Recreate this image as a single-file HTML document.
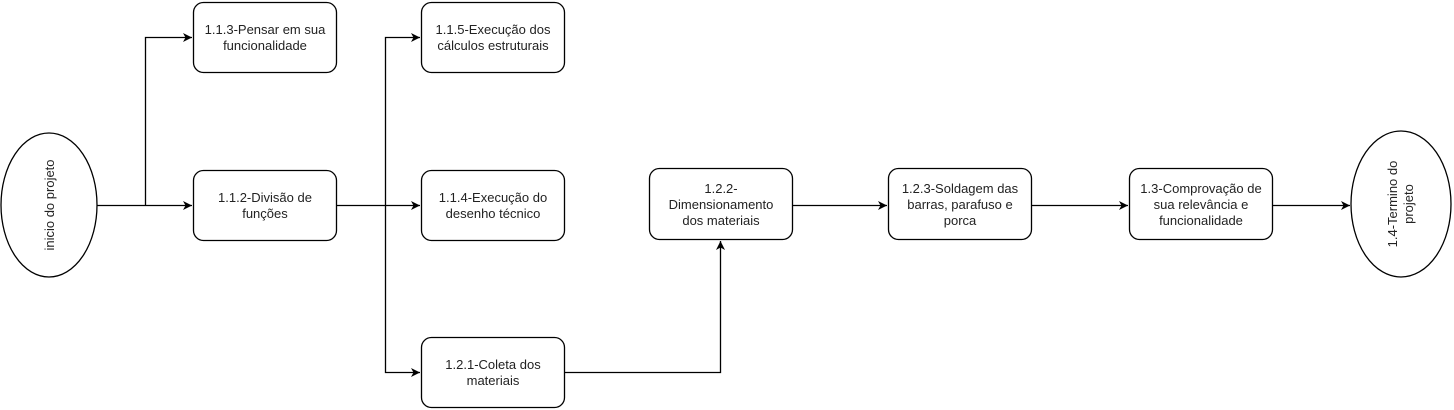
<!DOCTYPE html>
<html><head><meta charset="utf-8"><style>
body{margin:0;background:#fff;}
svg{display:block;}
text{font-family:"Liberation Sans",Arial,sans-serif;font-size:13px;fill:#222;text-anchor:middle;}
</style></head><body>
<svg width="1454" height="410" viewBox="0 0 1454 410">
<defs><marker id="a" markerWidth="12" markerHeight="12" refX="10" refY="6" orient="auto" markerUnits="userSpaceOnUse"><path d="M1,1.5 L10,6 L1,10.5 L3.5,6 Z" fill="#000"/></marker></defs>
<g fill="none" stroke="#000" stroke-width="1.3">
<ellipse cx="49" cy="205" rx="48" ry="72" fill="#fff"/>
<ellipse cx="1401" cy="204" rx="50" ry="73" fill="#fff"/>
<rect x="193.5" y="2.5" width="143" height="70" rx="10" fill="#fff"/>
<rect x="193.5" y="170.5" width="143" height="70" rx="10" fill="#fff"/>
<rect x="421.5" y="2.5" width="143" height="70" rx="10" fill="#fff"/>
<rect x="421.5" y="170.5" width="143" height="70" rx="10" fill="#fff"/>
<rect x="421.5" y="337.5" width="143" height="70" rx="10" fill="#fff"/>
<rect x="649.5" y="168.5" width="143" height="71" rx="10" fill="#fff"/>
<rect x="888.5" y="168.5" width="143" height="71" rx="10" fill="#fff"/>
<rect x="1129.5" y="168.5" width="143" height="71" rx="10" fill="#fff"/>
<path d="M97,205.5 H192" marker-end="url(#a)"/>
<path d="M145.5,205.5 V37.5 H192" marker-end="url(#a)"/>
<path d="M337,205.5 H420" marker-end="url(#a)"/>
<path d="M385.5,205.5 V37.5 H420" marker-end="url(#a)"/>
<path d="M385.5,205.5 V372.5 H420" marker-end="url(#a)"/>
<path d="M565,372.5 H720.5 V241" marker-end="url(#a)"/>
<path d="M793,205.5 H887" marker-end="url(#a)"/>
<path d="M1032,205.5 H1128" marker-end="url(#a)"/>
<path d="M1273,205.5 H1350" marker-end="url(#a)"/>
</g>
<text x="265" y="34">1.1.3-Pensar em sua</text><text x="265" y="50">funcionalidade</text>
<text x="265" y="202">1.1.2-Divisão de</text><text x="265" y="218">funções</text>
<text x="493" y="34">1.1.5-Execução dos</text><text x="493" y="50">cálculos estruturais</text>
<text x="493" y="202">1.1.4-Execução do</text><text x="493" y="218">desenho técnico</text>
<text x="493" y="369">1.2.1-Coleta dos</text><text x="493" y="385">materiais</text>
<text x="721" y="193">1.2.2-</text><text x="721" y="209">Dimensionamento</text><text x="721" y="225">dos materiais</text>
<text x="960" y="193">1.2.3-Soldagem das</text><text x="960" y="209">barras, parafuso e</text><text x="960" y="225">porca</text>
<text x="1201" y="193">1.3-Comprovação de</text><text x="1201" y="209">sua relevância e</text><text x="1201" y="225">funcionalidade</text>
<text transform="translate(54,205) rotate(-90)">inicio do projeto</text>
<text transform="translate(1400,204) rotate(-90)"><tspan x="0" y="-3">1.4-Termino do</tspan><tspan x="0" y="13">projeto</tspan></text>
</svg>
</body></html>
